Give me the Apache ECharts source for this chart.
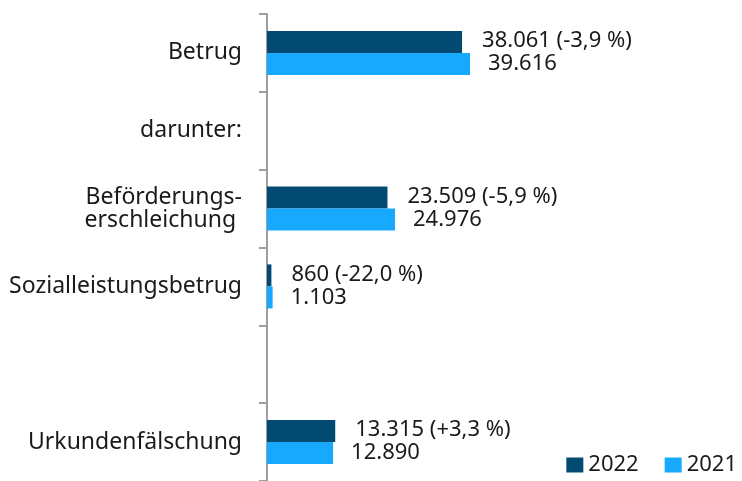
<!DOCTYPE html>
<html><head><meta charset="utf-8">
<script src="https://cdn.jsdelivr.net/npm/echarts@6/dist/echarts.min.js"></script>
<style>html,body{margin:0;padding:0;background:#fff}#c{width:742px;height:481px}</style>
</head><body><div id="c"></div>
<script>
const categories = ["Betrug", "darunter:", "Beförderungs-\nerschleichung ", "Sozialleistungsbetrug", "", "Urkundenfälschung"];
const values2022 = [38061, null, 23509, 860, null, 13315];
const values2021 = [39616, null, 24976, 1103, null, 12890];
const change2022 = ["-3,9 %", null, "-5,9 %", "-22,0 %", null, "+3,3 %"];
const seriesNames = ["2022", "2021"];

const FONT = "Noto Sans";
const fmt = v => v.toString().replace(/\B(?=(\d{3})+(?!\d))/g, ".");

const chart = echarts.init(document.getElementById('c'));
chart.setOption({
  animation: false,
  textStyle: {fontFamily: FONT},
  grid: {left: 267, top: 14, right: 65, bottom: -2, containLabel: false},
  legend: {
    data: seriesNames, right: 0, bottom: 0, icon: 'rect', itemWidth: 17, itemHeight: 15,
    itemGap: 26, itemTextGap: 5,
    textStyle: {fontFamily: FONT, fontSize: 22, color: '#1a1a1a'}
  },
  xAxis: {type: 'value', min: 0, max: 80000, show: false},
  yAxis: {
    type: 'category', data: categories, inverse: true,
    axisLine: {lineStyle: {color: '#9e9e9e', width: 2}},
    axisTick: {show: true, interval: 0, length: 8, lineStyle: {color: '#9e9e9e', width: 2}},
    axisLabel: {interval: 0, margin: 25, fontFamily: FONT, fontSize: 23, color: '#1a1a1a', lineHeight: 23, align: 'right'}
  },
  series: [
    {
      name: seriesNames[0], type: 'bar', data: values2022, barWidth: 22, barGap: '0%',
      itemStyle: {color: '#034a73'},
      label: {show: true, position: 'right', distance: 20, offset: [0, -1], fontFamily: FONT, fontSize: 22, color: '#1a1a1a',
        formatter: p => p.value == null ? '' : fmt(p.value) + ' (' + change2022[p.dataIndex] + ')'}
    },
    {
      name: seriesNames[1], type: 'bar', data: values2021, barWidth: 22, barGap: '0%',
      itemStyle: {color: '#17a9fe'},
      label: {show: true, position: 'right', distance: 18, fontFamily: FONT, fontSize: 22, color: '#1a1a1a',
        formatter: p => p.value == null ? '' : fmt(p.value)}
    }
  ]
});
</script></body></html>
